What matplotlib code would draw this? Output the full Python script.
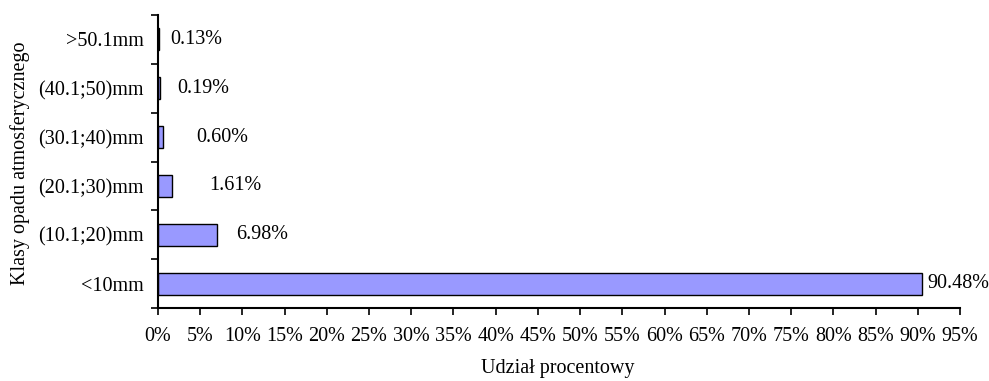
import matplotlib
matplotlib.use("Agg")
import matplotlib.pyplot as plt
import numpy as np

categories = ["<10mm", "(10.1;20)mm", "(20.1;30)mm", "(30.1;40)mm", "(40.1;50)mm", ">50.1mm"]
values = [90.48, 6.98, 1.61, 0.60, 0.19, 0.13]
labels = ["90.48%", "6.98%", "1.61%", "0.60%", "0.19%", "0.13%"]
xticks = list(range(0, 100, 5))
# label offsets in pixels (Excel placement quirk)
label_offsets = [6, 19, 38, 33, 18, 11]

plt.rcParams['font.family'] = ['Liberation Serif', 'DejaVu Serif']
fs = 14.5

fig = plt.figure(figsize=(9.89, 3.81), dpi=100)
ax = fig.add_axes([158/989, 1-308/381, (960-158)/989, (308-15)/381])

y = np.arange(len(categories))
ax.barh(y, values, height=0.45, color="#9999FF", edgecolor="black", linewidth=1.0)
ax.set_xlim(0, 95)
ax.set_ylim(-0.5, len(categories) - 0.5)
ax.set_xticks(xticks)
ax.set_xticklabels([f"{t}%" for t in xticks], fontsize=fs)
ax.set_yticks(y)
ax.set_yticklabels(categories, fontsize=fs)
ax.set_yticks(np.arange(-0.5, len(categories), 1.0), minor=True)
ax.tick_params(axis='y', which='major', length=0, pad=10)
ax.tick_params(axis='y', which='minor', length=5, width=1.2, direction='out')
ax.tick_params(axis='x', which='major', length=5, width=1.2, direction='out', pad=9)
for s in ["top", "right"]:
    ax.spines[s].set_visible(False)
for s in ["left", "bottom"]:
    ax.spines[s].set_linewidth(1.5)
    ax.spines[s].set_zorder(5)

for yi, v, lab, off in zip(y, values, labels, label_offsets):
    ax.annotate(lab, xy=(v, yi), xytext=(off * 0.72, 0), textcoords="offset points",
                ha="left", va="center", fontsize=fs)

fig.text(558/989, 1-368/381, "Udział procentowy", ha="center", va="center", fontsize=fs)
fig.text(20/989, 1-163/381, "Klasy opadu atmosferycznego", ha="center", va="center",
         rotation=90, fontsize=fs)

fig.savefig("out.png", dpi=100)
